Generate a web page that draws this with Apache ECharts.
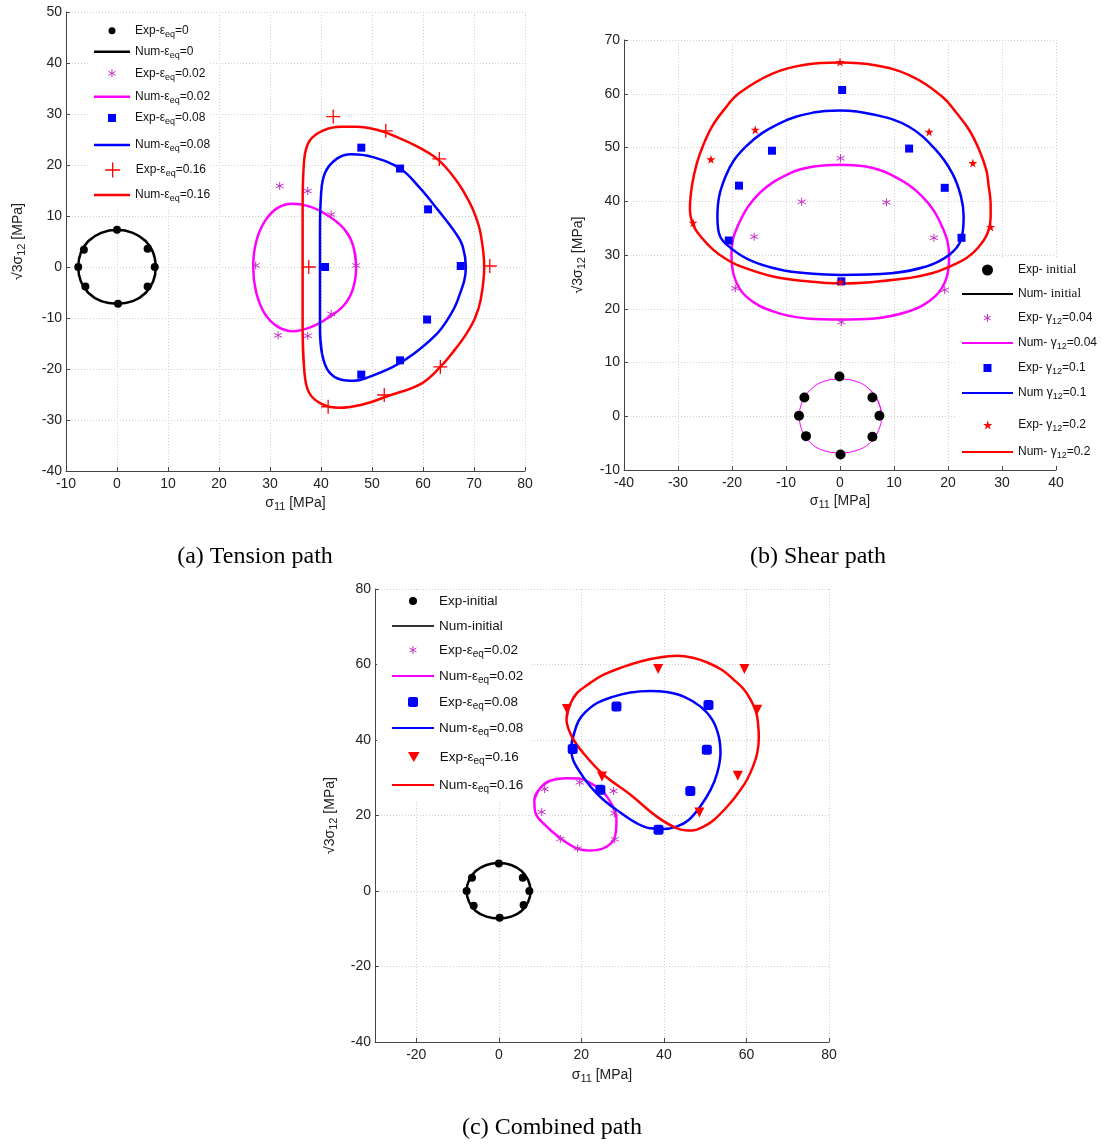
<!DOCTYPE html>
<html><head><meta charset="utf-8">
<script src="https://cdn.jsdelivr.net/npm/echarts@6/dist/echarts.min.js"></script>
<style>html,body{margin:0;padding:0;background:#fff}#c{width:1102px;height:1146px}</style>
</head><body><div id="c"></div>
<script>
// ---------------- (a) Tension path ----------------
const aExp0 = [[0,7.3],[6,3.6],[7.4,0],[6,-3.8],[0.2,-7.2],[-6.2,-3.8],[-7.6,0],[-6.5,3.4]];
const aNum0 = [[7.6,0],[7.1,2.8],[5.6,5.1],[3.1,6.7],[0,7.3],[-3.1,6.7],[-5.6,5.1],[-7.1,2.8],[-7.6,0],[-7.1,-2.8],[-5.6,-5.1],[-3.1,-6.7],[0,-7.2],[3.1,-6.7],[5.6,-5.1],[7.1,-2.8]];
const aExp002 = [[27.2,0.3],[31.9,15.9],[37.4,14.9],[42,10.3],[46.9,0.3],[42,-9.2],[37.4,-13.5],[31.6,-13.4]];
const aNum002 = [[46.9,0],[46.2,4.5],[44.5,7.5],[41.5,10],[38,11.8],[34.5,12.4],[31.5,11.6],[29,9],[27.3,5],[26.7,0],[27.3,-5],[29,-9.2],[31.5,-11.7],[34.5,-12.6],[38,-11.8],[41.5,-9.9],[44.5,-7.5],[46.2,-4.5]];
const aExp008 = [[47.9,23.4],[55.5,19.3],[61,11.3],[67.4,0.2],[60.8,-10.3],[55.5,-18.3],[47.9,-21.1],[40.8,0]];
const aNum008 = [[39.8,0],[39.8,-12],[40.2,-17],[41.5,-20.5],[44,-22.1],[46.5,-22.3],[49.3,-21.6],[54.1,-19.6],[58.2,-17],[62.7,-13.1],[65,-10],[66.8,-6.5],[68.4,0],[67.8,4],[66.5,6.5],[63,11.1],[59.2,15.7],[55.5,19.3],[50,21.6],[46,22.1],[43.2,21.3],[40.8,18.5],[40,14],[39.8,7]];
const aExp016 = [[42.4,29.5],[52.7,26.7],[63.2,21.2],[73.1,0.2],[63.4,-19.6],[52.4,-25.1],[41.4,-27.4],[37.6,0]];
const aNum016 = [[36.4,0],[36.4,-12],[36.7,-20],[37.6,-24.5],[40,-26.8],[43.5,-27.6],[48,-27],[53.4,-25.2],[59.6,-22.9],[63.4,-19.6],[66.1,-16.4],[68.5,-13.1],[70.2,-10],[71.3,-6.5],[72,0],[71.3,6.5],[70.3,10],[68.9,13.1],[66.5,17],[63,21],[58.9,23.6],[54.8,25.5],[51.3,26.8],[47,27.5],[44,27.5],[40.5,26.8],[37.8,24.8],[36.7,21],[36.4,12]];

// ---------------- (b) Shear path ----------------
const bExpInit = [[-0.1,7.4],[6,3.5],[7.3,0.1],[6,-3.8],[0.1,-7.1],[-6.3,-3.7],[-7.6,0.1],[-6.6,3.5]];
const bNumInit = [[7.7,0],[7.1,2.7],[5.5,5],[3,6.5],[0,6.9],[-3,6.5],[-5.4,5],[-7,2.7],[-7.5,0],[-7,-2.7],[-5.4,-5],[-3,-6.4],[0,-6.8],[3,-6.4],[5.5,-5],[7.1,-2.7]];
const bExp004 = [[0.1,48],[-7.1,39.9],[8.6,39.8],[-15.9,33.4],[17.4,33.2],[-19.4,23.8],[19.4,23.5],[0.25,17.5]];
const bNum004 = [[0,18],[6.4,18.2],[12.7,19.5],[17.6,22.3],[19.8,26],[20.2,29.7],[18.9,35.3],[15.2,40.9],[9.5,44.9],[4.5,46.5],[0,46.8],[-4.5,46.5],[-9.3,45.2],[-14.9,41.5],[-18.7,35.9],[-20.1,30.3],[-19.6,26],[-17.4,22.3],[-12.4,19.5],[-6.1,18.2]];
const bExp01 = [[0.4,60.7],[-12.6,49.4],[-18.7,42.9],[-20.6,32.7],[12.8,49.8],[19.4,42.5],[22.5,33.2],[0.25,25.1]];
const bNum01 = [[0,26.3],[9.5,26.6],[15.8,27.8],[20.2,30],[22.4,32.8],[22.9,37.1],[22.4,40.9],[20.8,45.2],[17.7,49.6],[12.7,53.9],[6.4,56.1],[0,56.9],[-4.9,56.5],[-11.2,54.5],[-17.4,50.2],[-21.2,44.6],[-22.7,37.1],[-22.4,34],[-20.6,31.6],[-16.8,29.1],[-11.2,27.3],[-5,26.5]];
const bExp02 = [[0,65.9],[-15.7,53.3],[-23.9,47.8],[-27.2,36],[16.5,52.9],[24.6,47.1],[27.9,35.2],[0.1,25]];
const bNum02 = [[0,24.7],[6.3,25],[12.7,25.7],[17,26.6],[20.2,27.8],[23.5,29.5],[25.6,31.4],[27.3,34],[27.9,37],[27.9,39.5],[27.5,43],[27.1,45.8],[25.8,49.5],[23.9,53.3],[21.5,56.5],[18.9,59.5],[12.7,63.5],[6.5,65.3],[0,65.8],[-6.5,65.4],[-12.4,63.8],[-18.7,60.1],[-21.5,57],[-23.7,53.9],[-25.3,50.5],[-26.5,47.1],[-27.4,43],[-27.8,38.4],[-27.2,35.6],[-25.6,33.2],[-23.5,31],[-21.2,29.3],[-18.7,28],[-12.4,26],[-6.1,25.1]];

// ---------------- (c) Combined path ----------------
const cExpInit = [[0,7.3],[5.8,3.5],[7.4,0],[6,-3.7],[0.2,-7.1],[-6.1,-3.9],[-7.8,0],[-6.5,3.5]];
const cNumInit = [[7.7,0],[7.1,2.9],[5.5,5.3],[3,6.9],[0,7.4],[-3,6.9],[-5.6,5.3],[-7.2,2.9],[-7.8,0],[-7.2,-2.9],[-5.6,-5.3],[-3,-6.8],[0,-7.3],[3,-6.8],[5.5,-5.3],[7.1,-2.9]];
const cExp002 = [[11.1,27],[10.4,20.9],[14.9,13.8],[19.1,11.3],[19.6,28.8],[27.8,26.5],[28,20.6],[28.1,13.7]];
const cNum002 = [[8.6,24.1],[10,27.2],[12.4,29.2],[16.5,29.9],[19.5,29.8],[22.2,28.6],[24.5,27],[26.2,25],[27.8,22],[28.5,18.8],[28.4,16],[27.8,13.5],[26.2,11.8],[24,10.9],[21.7,10.7],[18.9,11.3],[14.9,14],[10.8,17.9],[8.8,21]];
const cExp008 = [[17.9,37.6],[28.5,48.9],[50.8,49.3],[50.4,37.4],[46.4,26.5],[38.7,16.2],[24.6,26.8]];
const cNum008 = [[17.6,38.5],[18.3,42],[19.3,45],[20.9,47.3],[23.8,49.8],[27.8,51.5],[31.9,52.6],[36.7,53],[40.7,52.7],[44.8,51.5],[48.8,48.9],[51.7,45.4],[53.3,40.9],[53.7,36.5],[52.9,31.2],[51.3,26.8],[48.8,22.4],[46,18.8],[43.2,17.1],[39.9,16.4],[36.7,16.6],[33.5,17.9],[30.2,20.2],[25.4,24.1],[22.2,27.7],[19.3,32.1],[17.7,36]];
const cExp016 = [[16.5,48.2],[38.6,58.8],[59.5,58.8],[62.6,48],[57.9,30.5],[48.6,20.8],[25,30.3]];
const cNum016 = [[16.4,45.5],[17.3,49.5],[18.9,52.4],[22,55],[25.4,57.3],[30,59.3],[34.3,60.8],[38.5,61.8],[43.2,62.3],[47,61.8],[50.4,60.6],[54,58.6],[56.9,56],[59.3,53.5],[61,50.7],[62.3,47.5],[62.8,44.5],[63,40.5],[62.6,36.5],[61.6,33],[60.1,29.4],[58.2,26.3],[56.1,23.3],[52.1,18.8],[49.5,17],[46.8,16],[43.2,16.6],[38.3,19.7],[31.9,25.5],[25.4,30.8],[20.5,36.5],[17.7,40.9]];

// legend labels (rich text; {s|..} = subscript, {t|..} = serif)
const LABELS = {
  aExp0:'Exp-ε{s|eq}=0', aNum0:'Num-ε{s|eq}=0', aExp002:'Exp-ε{s|eq}=0.02', aNum002:'Num-ε{s|eq}=0.02',
  aExp008:'Exp-ε{s|eq}=0.08', aNum008:'Num-ε{s|eq}=0.08', aExp016:'Exp-ε{s|eq}=0.16', aNum016:'Num-ε{s|eq}=0.16',
  bExpInit:'Exp- {t|initial}', bNumInit:'Num- {t|initial}', bExp004:'Exp- γ{s|12}=0.04', bNum004:'Num- γ{s|12}=0.04',
  bExp01:'Exp- γ{s|12}=0.1', bNum01:'Num γ{s|12}=0.1', bExp02:'Exp- γ{s|12}=0.2', bNum02:'Num- γ{s|12}=0.2',
  cExpInit:'Exp-initial', cNumInit:'Num-initial', cExp002:'Exp-ε{s|eq}=0.02', cNum002:'Num-ε{s|eq}=0.02',
  cExp008:'Exp-ε{s|eq}=0.08', cNum008:'Num-ε{s|eq}=0.08', cExp016:'Exp-ε{s|eq}=0.16', cNum016:'Num-ε{s|eq}=0.16'
};
const CAPTIONS = ['(a) Tension path', '(b) Shear path', '(c) Combined path'];

const RED = '#ff0000', BLUE = '#0000ff', MAG = '#ff00ff', MAGS = '#c52fc5', BLK = '#000000';
const SANS = 'Liberation Sans, Arial, sans-serif';
const ASTER = 'path://M5,0L5,10M0.67,2.5L9.33,7.5M0.67,7.5L9.33,2.5';
const PLUS = 'path://M5,0L5,10M0,5L10,5';
const STAR = 'path://M50,0L61.2,34.5L97.6,34.5L68.2,55.9L79.4,90.5L50,69.1L20.6,90.5L31.8,55.9L2.4,34.5L38.8,34.5Z';
const TRI = 'path://M0,0L10,0L5,8.66Z';
const SQ = 'path://M0,0L10,0L10,10L0,10Z';
const RSQ = 'path://M2,0L8,0Q10,0 10,2L10,8Q10,10 8,10L2,10Q0,10 0,8L0,2Q0,0 2,0Z';

function close(p) { return p.concat(p.slice(0, 3)); }

function lineS(name, gi, data, color, width) {
  return { type:'line', name, xAxisIndex:gi, yAxisIndex:gi, data: close(data), smooth:0.4,
    symbol:'none', showSymbol:false, lineStyle:{color, width, opacity:1}, itemStyle:{color, opacity:1}, silent:true, z:2 };
}
function scat(name, gi, data, symbol, size, color, border) {
  const st = border ? {color, borderColor:color, borderWidth:border, opacity:1} : {color, opacity:1};
  return { type:'scatter', name, xAxisIndex:gi, yAxisIndex:gi, data, symbol, symbolSize:size,
    itemStyle: st, silent:true, z:3 };
}

const grids = [
  {left:66, top:12, width:459, height:459},
  {left:624, top:40, width:432, height:430},
  {left:375, top:589, width:454, height:453}
];

function xAx(gi, min, max, interval, gap) {
  const o = { type:'value', gridIndex:gi, min, max, position:'bottom',
    name:'σ{s|11} [MPa]', nameLocation:'middle', nameGap:gap,
    nameTextStyle:{fontSize:14, lineHeight:20, color:'#222', fontFamily:SANS, rich:{s:{fontSize:11, padding:[8,0,0,0]}}},
    axisLine:{show:true, onZero:false, lineStyle:{color:'#444', width:1}},
    axisTick:{show:true, inside:true, length:4, lineStyle:{color:'#444'}},
    axisLabel:{fontSize:14, color:'#222', fontFamily:SANS, margin:6},
    splitLine:{show:true, lineStyle:{color:'#cfcfcf', type:[1,2], width:1}} };
  if (interval) o.interval = interval; else { o.splitNumber = 5; o.axisLabel.showMinLabel = false; }
  return o;
}
function yAx(gi, min, max, interval, gap) {
  const o = { type:'value', gridIndex:gi, min, max, position:'left',
    name:'√3σ{s|12} [MPa]', nameLocation:'middle', nameGap:gap,
    nameTextStyle:{fontSize:14, lineHeight:20, color:'#222', fontFamily:SANS, rich:{s:{fontSize:11, padding:[8,0,0,0]}}},
    axisLine:{show:true, onZero:false, lineStyle:{color:'#444', width:1}},
    axisTick:{show:true, inside:true, length:4, lineStyle:{color:'#444'}},
    axisLabel:{fontSize:14, color:'#222', fontFamily:SANS, margin:4},
    splitLine:{show:true, lineStyle:{color:'#cfcfcf', type:[1,2], width:1}} };
  if (interval) o.interval = interval;
  return o;
}

const series = [
  lineS('aNum0', 0, aNum0, BLK, 2.5),
  lineS('aNum002', 0, aNum002, MAG, 2.5),
  lineS('aNum008', 0, aNum008, BLUE, 2.5),
  lineS('aNum016', 0, aNum016, RED, 2.5),
  scat('aExp0', 0, aExp0, 'circle', 8, BLK),
  scat('aExp002', 0, aExp002, ASTER, 8, MAGS, 1),
  scat('aExp008', 0, aExp008, 'rect', 8, BLUE),
  scat('aExp016', 0, aExp016, PLUS, 14, RED, 1.3),

  lineS('bNumInit', 1, bNumInit, MAG, 1),
  lineS('bNum004', 1, bNum004, MAG, 2.5),
  lineS('bNum01', 1, bNum01, BLUE, 2.5),
  lineS('bNum02', 1, bNum02, RED, 2.5),
  scat('bExpInit', 1, bExpInit, 'circle', 10, BLK),
  scat('bExp004', 1, bExp004, ASTER, 8, MAGS, 1),
  scat('bExp01', 1, bExp01, 'rect', 8, BLUE),
  scat('bExp02', 1, bExp02, STAR, 9, RED),

  lineS('cNumInit', 2, cNumInit, BLK, 2.5),
  lineS('cNum002', 2, cNum002, MAG, 2.5),
  lineS('cNum008', 2, cNum008, BLUE, 2.5),
  lineS('cNum016', 2, cNum016, RED, 2.5),
  scat('cExpInit', 2, cExpInit, 'circle', 8, BLK),
  scat('cExp002', 2, cExp002, ASTER, 8, MAGS, 1),
  scat('cExp008', 2, cExp008, 'roundRect', 10, BLUE),
  scat('cExp016', 2, cExp016, TRI, 10, RED)
];

const LH = 20;
function legBase(name, left, cy, w, h, fs) {
  return { show:true, data:[name], left, top: cy - LH/2, orient:'vertical', padding:0,
    itemWidth:w, itemHeight:h, itemGap:0, selectedMode:false, z:6,
    formatter: n => LABELS[n],
    textStyle:{fontSize:fs, lineHeight:LH, color:'#111', fontFamily:SANS,
      rich:{ s:{fontSize:Math.round(fs*0.75), padding:[8,0,0,0]},
             t:{fontSize:fs+1, fontFamily:'Liberation Serif, Times New Roman, serif'} } } };
}
// line entry: thin bar icon spanning the whole icon width
function legLine(name, L, cy, W, thick, fs, color) {
  const o = legBase(name, L, cy, W, thick, fs);
  o.icon = 'rect';
  if (color) o.itemStyle = {color, opacity:1};
  return o;
}
// marker entry: icon centred in the icon slot of width W
function legSym(name, L, cy, W, size, fs, extra) {
  const o = legBase(name, L + W/2 - size/2, cy, W, size, fs);
  return Object.assign(o, extra || {});
}
const A_L = 94, A_W = 36, B_L = 962, B_W = 51, C_L = 392, C_W = 42;
const legends = [
  legSym('aExp0', A_L, 30.7, A_W, 7, 12),
  legLine('aNum0', A_L, 51.7, A_W, 2.5, 12),
  legSym('aExp002', A_L, 73.3, A_W, 8, 12, {itemStyle:{borderColor:MAGS, borderWidth:1}}),
  legLine('aNum002', A_L, 96.7, A_W, 2.5, 12),
  legSym('aExp008', A_L, 118, A_W, 8, 12, {icon:SQ}),
  legLine('aNum008', A_L, 145, A_W, 2.5, 12),
  legSym('aExp016', A_L, 170, A_W, 15, 12, {itemStyle:{borderColor:RED, borderWidth:1.3}}),
  legLine('aNum016', A_L, 195, A_W, 2.5, 12),

  legSym('bExpInit', B_L, 270, B_W, 11, 12),
  legLine('bNumInit', B_L, 294, B_W, 1.8, 12, BLK),
  legSym('bExp004', B_L, 318, B_W, 8, 12, {itemStyle:{borderColor:MAGS, borderWidth:1}}),
  legLine('bNum004', B_L, 343, B_W, 2, 12),
  legSym('bExp01', B_L, 368, B_W, 8, 12, {icon:SQ}),
  legLine('bNum01', B_L, 393, B_W, 2, 12),
  legSym('bExp02', B_L, 425, B_W, 9, 12),
  legLine('bNum02', B_L, 452, B_W, 2, 12),

  legSym('cExpInit', C_L, 601, C_W, 8, 13.5),
  legLine('cNumInit', C_L, 626, C_W, 2, 13.5, '#333'),
  legSym('cExp002', C_L, 650, C_W, 8, 13.5, {itemStyle:{borderColor:MAGS, borderWidth:1}}),
  legLine('cNum002', C_L, 676, C_W, 2, 13.5),
  legSym('cExp008', C_L, 702, C_W, 10, 13.5, {icon:RSQ}),
  legLine('cNum008', C_L, 728, C_W, 2, 13.5),
  legSym('cExp016', C_L, 757, C_W, 10, 13.5),
  legLine('cNum016', C_L, 785, C_W, 2, 13.5)
];

function cap(text, x, y) {
  return { type:'text', x, y, z:10, style:{ text, fontSize:24, fontFamily:'Liberation Serif, Times New Roman, serif',
    fill:'#000', align:'center', verticalAlign:'middle', textAlign:'center', textVerticalAlign:'middle' } };
}
function box(x, y, w, h) {
  return { type:'rect', z:1, shape:{x, y, width:w, height:h}, style:{fill:'#fff'}, silent:true };
}

const option = {
  animation:false,
  backgroundColor:'#fff',
  grid: grids,
  xAxis: [ xAx(0, -10, 80, 10, 22), xAx(1, -40, 40, 10, 20), xAx(2, -30, 80, null, 23) ],
  yAxis: [ yAx(0, -40, 50, 10, 38), yAx(1, -10, 70, 10, 36), yAx(2, -40, 80, 20, 35) ],
  legend: legends,
  series,
  graphic: [
    box(88, 14, 122, 195), box(956, 258, 146, 206), box(377, 591, 154, 209),
    cap(CAPTIONS[0], 255, 557), cap(CAPTIONS[1], 818, 557), cap(CAPTIONS[2], 552, 1128)
  ]
};
const chart = echarts.init(document.getElementById('c'));
chart.setOption(option);
</script>
</body></html>
